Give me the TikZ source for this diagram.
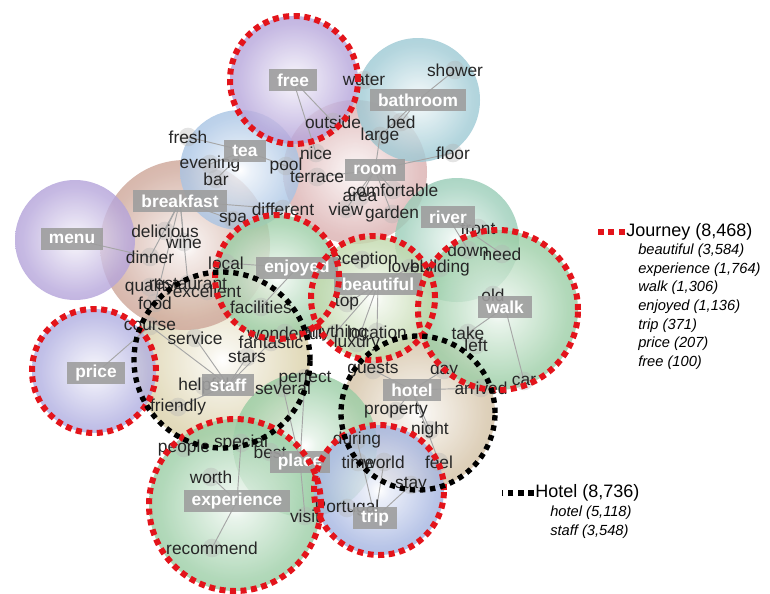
\documentclass[tikz,border=0pt]{standalone}
\usepackage{fontspec}
\setmainfont{Liberation Sans}
\usetikzlibrary{positioning}

\definecolor{bPurple}{HTML}{9C86CE}
\definecolor{bViolet}{HTML}{9492D6}
\definecolor{bTeal}{HTML}{7EB8C6}
\definecolor{bSky}{HTML}{8EB2DC}
\definecolor{bPink}{HTML}{CF9696}
\definecolor{bBrown}{HTML}{BE8A78}
\definecolor{bMint}{HTML}{78BCA0}
\definecolor{bGreen}{HTML}{78BC86}
\definecolor{bLime}{HTML}{ACCC90}
\definecolor{bCream}{HTML}{CEC18C}
\definecolor{bSand}{HTML}{C6AE88}
\definecolor{bBlue}{HTML}{849AD6}
\definecolor{ringRed}{HTML}{E3141B}

\colorlet{bubcol}{gray}
\pgfdeclareradialshading[bubcol]{bubble}{\pgfpoint{0bp}{0bp}}{%
  color(0bp)=(white); color(4bp)=(white!80!bubcol); color(22bp)=(bubcol!72!white); color(40bp)=(bubcol); color(50bp)=(bubcol!88!black)}

\pgfdeclarelayer{fills}
\pgfdeclarelayer{links}
\pgfsetlayers{fills,links,main}

\begin{document}
\begin{tikzpicture}[
    x=0.75pt, y=-0.75pt,
    bubble/.style={shading=bubble, /utils/exec={\colorlet{bubcol}{#1}}, opacity=0.8},
    hub/.style={fill=black!38, fill opacity=0.9, text opacity=1, text=white, font=\bfseries\fontsize{13}{15}\selectfont, inner xsep=6pt, inner ysep=1.5pt, minimum height=16pt},
    word/.style={text=black!85, font=\fontsize{13}{15}\selectfont, inner sep=0pt},
    link/.style={draw=black!35, line width=0.7pt},
    knot/.style={fill=black!30, opacity=0.35},
    journeyring/.style={draw=ringRed, line width=4.5pt, dash pattern=on 4.5pt off 3.4pt},
    hotelring/.style={draw=black, line width=4pt, dash pattern=on 4pt off 3.6pt},
    legendhead/.style={font=\fontsize{13.5}{15}\selectfont, inner sep=0pt, anchor=west},
    legendlist/.style={font=\itshape\fontsize{11}{13.9}\selectfont, inner sep=0pt, anchor=north west, align=left}
]
\useasboundingbox (0,0) rectangle (770,593);

    % Bubbles
    \begin{pgfonlayer}{fills}
    \foreach \n/\x/\y/\r/\c in {staff/222/360/88/bCream, hotel/418/413/77/bSand,
        breakfast/185/245/85/bBrown, room/355/172/72/bPink, bathroom/418/100/62/bTeal,
        tea/240/170/60/bSky, menu/75/240/60/bPurple, free/294/80/64/bPurple,
        river/457/240/62/bMint, walk/498/310/80/bGreen, enjoyed/277/277/62/bGreen,
        beautiful/373/298/62/bLime, price/94/371/62/bViolet, place/305/445/72/bGreen,
        experience/235/505/86/bGreen, trip/379/490/65/bBlue}
        \shade[bubble=\c] (\x,\y) coordinate (c-\n) circle[radius=\r*0.75pt];
    \end{pgfonlayer}

    % Words
    \foreach \n/\x/\y in {water/364/80, shower/455/70, outside/333/122, bed/401/122,
        large/380/136, floor/453/153, fresh/188/137, nice/316/153, pool/286/166,
        evening/210/164, terrace/317/177, bar/216/179, comfortable/393/190, area/360/197,
        view/346/209, garden/392/214, different/283/209, spa/233/220, delicious/165/231,
        wine/184/242, dinner/150/257, reception/362/260, local/226/263, lovely/410/268,
        building/440/268, front/478/228, down/468/250, need/502/254, old/493/295,
        quality/150/287, restaurant/188/284, excellent/207/291, food/155/303,
        facilities/261/307, top/347/303, course/150/326, service/195/338,
        wonderful/285/333, anything/335/333, location/377/332, take/468/333,
        fantastic/271/342, luxury/357/343, left/476/345, stars/247/357, guests/373/370,
        day/444/370, perfect/305/378, car/524/381, helpful/204/386, several/283/388,
        arrived/481/388, friendly/178/407, property/396/411, night/430/430,
        during/357/440, special/241/443, people/184/448, best/270/452, time/358/462,
        world/384/462, feel/439/462, worth/211/477, stay/411/485, Portugal/347/508,
        visit/305/516, recommend/212/548}
    {
        \begin{pgfonlayer}{links}
        \fill[knot] (\x,\y) circle[radius=7pt];
        \end{pgfonlayer}
        \node[word] (\n) at (\x,\y) {\n};
    }

    % Topic labels
    \foreach \n/\x/\y in {free/293/80, bathroom/418/100, tea/245/151, room/375/170,
        breakfast/180/201, menu/72/239, river/448/217, enjoyed/297/268,
        beautiful/378/284, walk/505/307, staff/228/385, price/96/373, hotel/412/390,
        place/300/462, experience/237/501, trip/375/518}
        \node[hub] (hub-\n) at (\x,\y) {\n};

    % Links between labels and words
    \begin{pgfonlayer}{links}
    \foreach \h/\w in {free/outside, free/nice, bathroom/shower, bathroom/bed,
        bathroom/large, room/floor, room/terrace, room/area, room/view, room/comfortable,
        room/garden, room/large, tea/fresh, tea/evening, tea/bar, tea/pool,
        breakfast/delicious, breakfast/wine, breakfast/dinner, breakfast/spa,
        breakfast/different, breakfast/food, breakfast/restaurant, menu/dinner,
        enjoyed/local, enjoyed/facilities, enjoyed/reception, beautiful/top,
        beautiful/location, beautiful/lovely, beautiful/luxury, beautiful/anything,
        river/front, river/down, river/need, walk/old, walk/take, walk/car,
        hotel/guests, hotel/property, hotel/night, hotel/day, hotel/arrived, hotel/feel,
        staff/service, staff/stars, staff/helpful, staff/friendly, staff/fantastic,
        staff/course, price/course, place/perfect, place/several, place/best,
        place/visit, experience/worth, experience/recommend, experience/special,
        trip/Portugal, trip/stay, trip/world, trip/during}
        \draw[link] (hub-\h.center) -- (\w.center);
    \end{pgfonlayer}

    % Journey themes (red) and Hotel themes (black)
    \draw[journeyring] (c-free) circle[radius=64*0.75pt];
    \draw[journeyring] (c-enjoyed) circle[radius=62*0.75pt];
    \draw[journeyring] (c-beautiful) circle[radius=62*0.75pt];
    \draw[journeyring] (c-walk) circle[radius=80*0.75pt];
    \draw[journeyring] (c-price) circle[radius=62*0.75pt];
    \draw[journeyring] (c-experience) circle[radius=86*0.75pt];
    \draw[journeyring] (c-trip) circle[radius=65*0.75pt];
    \draw[hotelring] (c-staff) circle[radius=88*0.75pt];
    \draw[hotelring] (c-hotel) circle[radius=77*0.75pt];

    % Legend
    \node[legendhead] (journey) at (626,232) {Journey (8,468)};
    \draw[journeyring] ([xshift=-1pt]journey.west) -- ++(-28,0);
    \node[legendlist] (journeylist) at (638,244) {beautiful (3,584)\\experience (1,764)\\walk (1,306)\\enjoyed (1,136)\\trip (371)\\price (207)\\free (100)};

    \node[legendhead] (hotellegend) at (535,493) {Hotel (8,736)};
    \draw[hotelring] ([xshift=-1pt]hotellegend.west) -- ++(-32,0);
    \node[legendlist] (hotellist) at (550,506) {hotel (5,118)\\staff (3,548)};

\end{tikzpicture}
\end{document}
